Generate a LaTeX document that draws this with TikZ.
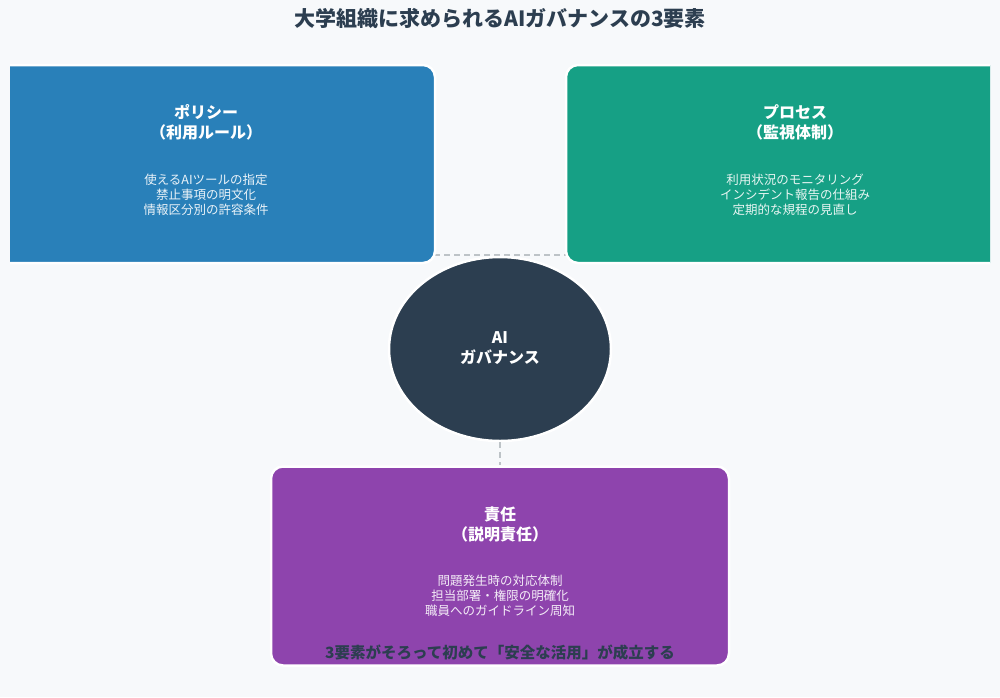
\documentclass[tikz,border=0pt]{standalone}
\usepackage{fontspec}
\setmainfont{Noto Sans CJK JP}
\usetikzlibrary{shapes.geometric}
\definecolor{bgc}{HTML}{F7F9FB}
\definecolor{darkc}{HTML}{2C3E50}
\definecolor{bluec}{HTML}{2980B9}
\definecolor{greenc}{HTML}{16A085}
\definecolor{purplec}{HTML}{8E44AD}
\definecolor{linec}{HTML}{BDC3C7}
\tikzset{
  card/.style={draw=white, line width=2.5pt, rounded corners=12pt, inner sep=0pt},
  headtxt/.style={text=white, font=\bfseries\fontsize{16}{20}\selectfont, align=center, inner sep=0pt},
  itemtxt/.style={text=white, text opacity=0.9, font=\fontsize{12.5}{15}\selectfont, align=center, inner sep=0pt},
  link/.style={draw=linec, line width=2pt, dash pattern=on 6pt off 4pt},
}
\begin{document}
\begin{tikzpicture}[x=1pt,y=-1pt]
\fill[bgc] (0,0) rectangle (1000,697);
\useasboundingbox (0,0) rectangle (1000,697);
\node[text=darkc, font=\bfseries\fontsize{21}{24}\selectfont, inner sep=0pt] (title) at (500,18) {大学組織に求められるAIガバナンスの3要素};
% connectors
\coordinate (hl) at (434,255);
\coordinate (hr) at (566,255);
\draw[link] (hl) -- (hr);
\begin{scope}
\clip (10,0) rectangle (990,697);
\node[card, fill=bluec, minimum width=458pt, minimum height=198pt] (policy) at (206,164) {};
\node[card, fill=greenc, minimum width=458pt, minimum height=198pt] (process) at (795,164) {};
\end{scope}
\node[card, fill=purplec, minimum width=458pt, minimum height=199pt] (resp) at (500,566) {};
\node[ellipse, draw=white, line width=2.5pt, fill=darkc, minimum width=222pt, minimum height=184pt, inner sep=0pt] (core) at (500,349) {};
\draw[link] (core.south) -- (resp.north);
% texts
\node[headtxt] (pt) at (206,122) {ポリシー\\（利用ルール）};
\node[itemtxt] (pi) at (206,195) {使えるAIツールの指定\\禁止事項の明文化\\情報区分別の許容条件};
\node[headtxt] (gt) at (795,122) {プロセス\\（監視体制）};
\node[itemtxt] (gi) at (795,195) {利用状況のモニタリング\\インシデント報告の仕組み\\定期的な規程の見直し};
\node[headtxt] (ct) at (500,348) {AI\\ガバナンス};
\node[headtxt] (rt) at (500,524) {責任\\（説明責任）};
\node[itemtxt] (ri) at (500,596) {問題発生時の対応体制\\担当部署・権限の明確化\\職員へのガイドライン周知};
\node[text=darkc, font=\bfseries\fontsize{15.5}{20}\selectfont, inner sep=0pt] (note) at (500,653) {3要素がそろって初めて「安全な活用」が成立する};
\end{tikzpicture}
\end{document}
